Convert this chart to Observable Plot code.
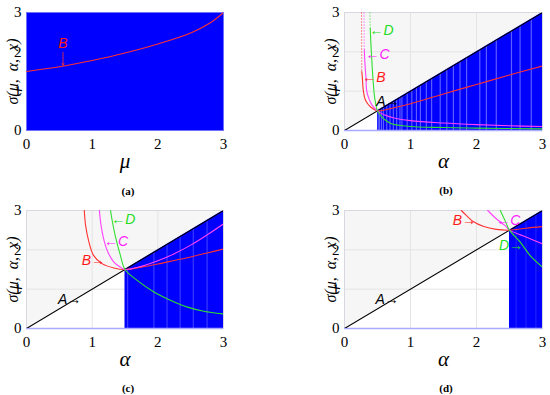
<!DOCTYPE html>
<html><head><meta charset="utf-8">
<script src="https://cdn.jsdelivr.net/npm/d3@7"></script>
<script src="https://cdn.jsdelivr.net/npm/@observablehq/plot@0.6"></script>
<style>
body{margin:0;background:#fff;}
#wrap{position:relative;width:550px;height:395px;overflow:hidden;}
.panel{position:absolute;}
.cap{position:absolute;font-family:'Liberation Serif';font-weight:bold;font-size:11px;transform:translate(-50%,-50%);white-space:nowrap;}
</style></head><body><div id="wrap"></div>
<script>
// ---------- data ----------
const xTicks = [0, 1, 2, 3];
const yTicks = [0, 1, 2, 3];
const yLabel = "σ(μ,  α,  x)";
const captions = ["(a)", "(b)", "(c)", "(d)"];
const xNames = ["μ", "α", "α", "α"];

// line A (sigma = alpha)
const lineAx = [0, 3];
const lineAy = [0, 3];

// panel (a)
const aMu = [0, 0.5, 1, 1.5, 2, 2.5, 2.8, 3];
const aB  = [1.5, 1.62, 1.78, 1.97, 2.2, 2.48, 2.74, 3.0];
const aLabelText = ["B"];
const aLabelX = [0.556];
const aLabelY = [2.2];
const aArrowX = [0.556];
const aArrowY1 = [1.99];
const aArrowY2 = [1.66];

// panel (b)
const bBx = [0.262, 0.27, 0.285, 0.32, 0.4, 0.5, 0.75, 1, 1.5, 2, 2.5, 3];
const bBy = [1.5, 1.35, 1.02, 0.76, 0.59, 0.5, 0.58, 0.68, 0.93, 1.17, 1.41, 1.64];
const bBdotx = [0.258, 0.262];
const bBdoty = [3.0, 1.5];
const bCx = [0.30, 0.31, 0.325, 0.335, 0.37, 0.42, 0.5, 0.6, 0.75, 1, 1.5, 2, 2.5, 3];
const bCy = [2.05, 1.7, 1.35, 1.02, 0.81, 0.64, 0.5, 0.4, 0.32, 0.25, 0.19, 0.15, 0.12, 0.10];
const bCdotx = [0.295, 0.30];
const bCdoty = [3.0, 2.05];
const bDx = [0.39, 0.40, 0.41, 0.43, 0.46, 0.5, 0.55, 0.6, 0.7, 0.95, 1.5, 2, 3];
const bDy = [2.6, 2.2, 1.9, 1.35, 0.8, 0.5, 0.38, 0.29, 0.18, 0.11, 0.075, 0.06, 0.04];
const bDdotx = [0.385, 0.39];
const bDdoty = [3.0, 2.6];
const bBlue = [0.5, 3];
const bStripes = [0.51, 0.53, 0.56, 0.59, 0.64, 0.69, 0.74, 0.79, 0.84, 0.87, 0.95, 1.02, 1.09, 1.15, 1.24, 1.32, 1.45, 1.55, 1.65, 1.75, 1.85, 2.05, 2.15, 2.3, 2.53, 2.66, 2.83];
const bLabelText = ["←D", "←C", "←B", "A→"];
const bLabelSeries = ["D", "C", "B", "A"];
const bLabelX = [0.38, 0.32, 0.27, 0.48];
const bLabelY = [2.55, 1.93, 1.34, 0.74];

// panel (c)
const cBx = [0.88, 0.90, 0.95, 1.02, 1.15, 1.33, 1.5, 1.75, 2, 2.25, 2.5, 2.75, 3];
const cBy = [3.0, 2.62, 2.2, 1.86, 1.65, 1.54, 1.5, 1.56, 1.64, 1.73, 1.82, 1.92, 2.02];
const cCx = [1.11, 1.135, 1.18, 1.24, 1.33, 1.43, 1.5, 1.75, 2, 2.25, 2.5, 2.75, 3];
const cCy = [3.0, 2.62, 2.24, 1.94, 1.69, 1.56, 1.5, 1.58, 1.72, 1.9, 2.12, 2.38, 2.66];
const cDx = [1.28, 1.30, 1.35, 1.43, 1.5, 1.68, 1.94, 2.19, 2.44, 2.7, 3];
const cDy = [3.0, 2.79, 2.37, 1.86, 1.5, 1.23, 0.93, 0.72, 0.55, 0.44, 0.37];
const cCbaseX = [0, 0.17];
const cCbaseY = [0, 0];
const cBlue = [1.5, 3];
const cStripes = [1.54, 1.94, 2.14, 2.34, 2.54, 2.75];
const cLabelText = ["←D", "←C", "B→", "A→"];
const cLabelSeries = ["D", "C", "B", "A"];
const cLabelX = [1.29, 1.18, 0.84, 0.48];
const cLabelY = [2.76, 2.21, 1.73, 0.74];

// panel (d)
const dBx = [1.77, 1.85, 1.95, 2.1, 2.3, 2.5, 2.75, 3];
const dBy = [3.0, 2.87, 2.72, 2.6, 2.52, 2.5, 2.55, 2.59];
const dCx = [2.17, 2.3, 2.43, 2.5, 2.76, 3];
const dCy = [3.0, 2.79, 2.62, 2.5, 2.32, 2.15];
const dDx = [2.36, 2.43, 2.5, 2.66, 2.81, 3];
const dDy = [3.0, 2.75, 2.5, 2.2, 1.86, 1.56];
const dBlue = [2.5, 3];
const dStripes = [2.6, 2.75, 2.9];
const dLabelText = ["B→", "←C", "D→", "A→"];
const dLabelSeries = ["B", "C", "D", "A"];
const dLabelX = [1.64, 2.30, 2.34, 0.47];
const dLabelY = [2.75, 2.75, 2.11, 0.74];

// ---------- drawing ----------
const LINE = {A: "#000000", B: "#ff3030", C: "#ff40ff", D: "#30dd30"};
const TEXT = {A: "#000000", B: "#ff1a1a", C: "#ff22ff", D: "#22dd22"};
const BLUE = "#0000ff";
const yMax = yTicks[yTicks.length - 1];
const pts = (xs, ys) => xs.map((x, i) => ({x, y: ys[i]}));
const lbls = (t, s, xs, ys) => t.map((tt, i) => ({t: tt, s: s[i], x: xs[i], y: ys[i]}));
const labelStrings = new Set([...aLabelText, ...bLabelText, ...cLabelText, ...dLabelText]);

function curve(xs, ys, key, dotted) {
  return Plot.line(pts(xs, ys), {x: "x", y: "y", stroke: LINE[key], strokeWidth: dotted ? 1 : 1.1,
    strokeOpacity: dotted ? 0.6 : 1,
    curve: "catmull-rom", clip: true, strokeDasharray: dotted ? "1,2" : null});
}

function base(marks, opts) {
  const svg = Plot.plot({
    width: 275, height: 180,
    marginLeft: opts.ml, marginRight: opts.mr, marginTop: 12, marginBottom: 50,
    style: {fontFamily: "Liberation Serif", fontSize: "15px", background: "transparent", overflow: "visible"},
    x: {domain: [0, 3], ticks: xTicks, tickSize: 0, tickPadding: 8, label: null, tickFormat: d => String(d)},
    y: {domain: [0, 3], ticks: yTicks, tickSize: 0, tickPadding: 5, label: null, tickFormat: d => String(d)},
    marks: [
      ...marks,
      Plot.text([yLabel], {frameAnchor: "left", textAnchor: "middle", dx: -13.5, rotate: -90, fontSize: 16, fontStyle: "italic"}),
      Plot.text([opts.xName], {frameAnchor: "bottom", textAnchor: "middle", dy: 37, fontSize: 21, fontStyle: "italic"})
    ]
  });
  d3.select(svg).selectAll("text").each(function() {
    if (labelStrings.has(this.textContent)) this.style.fontFamily = "Liberation Sans";
  });
  return svg;
}

function commonBg(blue, stripes, stripeColor) {
  return [
    Plot.areaY(pts(lineAx, lineAy), {x: "x", y1: "y", y2: yMax, fill: "#f6f6f6"}),
    Plot.ruleX([1, 2], {stroke: "#e4e4e4"}),
    Plot.ruleY([1, 2], {stroke: "#e4e4e4"}),
    Plot.areaY(blue, {x: d => d, y1: 0, y2: d => d, fill: BLUE}),
    Plot.ruleX(stripes, {x: d => d, y1: 0, y2: d => d, stroke: stripeColor, strokeWidth: 1.2}),
    Plot.frame({stroke: "#d8d8e2"}),
    Plot.ruleY([0], {stroke: "#aaaaff", strokeWidth: 1.5})
  ];
}

function labelMark(data) {
  return Plot.text(data, {x: "x", y: "y", text: "t", fill: d => TEXT[d.s], textAnchor: "start",
    fontSize: 14, fontStyle: "italic"});
}

const panels = [];
// (a)
panels.push({left: 0, top: 0, svg: base([
  Plot.frame({fill: BLUE, stroke: "#7070ff"}),
  curve(aMu, aB, "B"),
  Plot.text(lbls(aLabelText, ["B"], aLabelX, aLabelY), {x: "x", y: "y", text: "t", fill: TEXT.B, fontSize: 14, fontStyle: "italic"}),
  Plot.arrow(aArrowX.map((x, i) => ({x, y1: aArrowY1[i], y2: aArrowY2[i]})), {x1: "x", x2: "x", y1: "y1", y2: "y2", stroke: LINE.B, strokeWidth: 0.8, headLength: 4})
], {ml: 26, mr: 52, xName: xNames[0]})});
// (b)
panels.push({left: 275, top: 0, svg: base([
  ...commonBg(bBlue, bStripes, "#5c5cff"),
  curve(lineAx, lineAy, "A"),
  curve(bBx, bBy, "B"), curve(bBdotx, bBdoty, "B", true),
  curve(bCx, bCy, "C"), curve(bCdotx, bCdoty, "C", true),
  curve(bDx, bDy, "D"), curve(bDdotx, bDdoty, "D", true),
  labelMark(lbls(bLabelText, bLabelSeries, bLabelX, bLabelY))
], {ml: 69, mr: 8, xName: xNames[1]})});
// (c)
panels.push({left: 0, top: 198, svg: base([
  ...commonBg(cBlue, cStripes, "#3a3aff"),
  curve(lineAx, lineAy, "A"),
  curve(cCbaseX, cCbaseY, "C"),
  curve(cBx, cBy, "B"), curve(cCx, cCy, "C"), curve(cDx, cDy, "D"),
  labelMark(lbls(cLabelText, cLabelSeries, cLabelX, cLabelY))
], {ml: 26, mr: 52, xName: xNames[2]})});
// (d)
panels.push({left: 275, top: 198, svg: base([
  ...commonBg(dBlue, dStripes, "#2020ff"),
  curve(lineAx, lineAy, "A"),
  curve(dBx, dBy, "B"), curve(dCx, dCy, "C"), curve(dDx, dDy, "D"),
  labelMark(lbls(dLabelText, dLabelSeries, dLabelX, dLabelY))
], {ml: 69, mr: 8, xName: xNames[3]})});

const wrap = document.getElementById("wrap");
panels.forEach(p => {
  const d = document.createElement("div");
  d.className = "panel";
  d.style.left = p.left + "px";
  d.style.top = p.top + "px";
  d.appendChild(p.svg);
  wrap.appendChild(d);
});
const capPos = [[128, 191], [446, 190], [128, 388], [446, 388]];
captions.forEach((c, i) => {
  const el = document.createElement("div");
  el.className = "cap";
  el.textContent = c;
  el.style.left = capPos[i][0] + "px";
  el.style.top = capPos[i][1] + "px";
  wrap.appendChild(el);
});
</script></body></html>
